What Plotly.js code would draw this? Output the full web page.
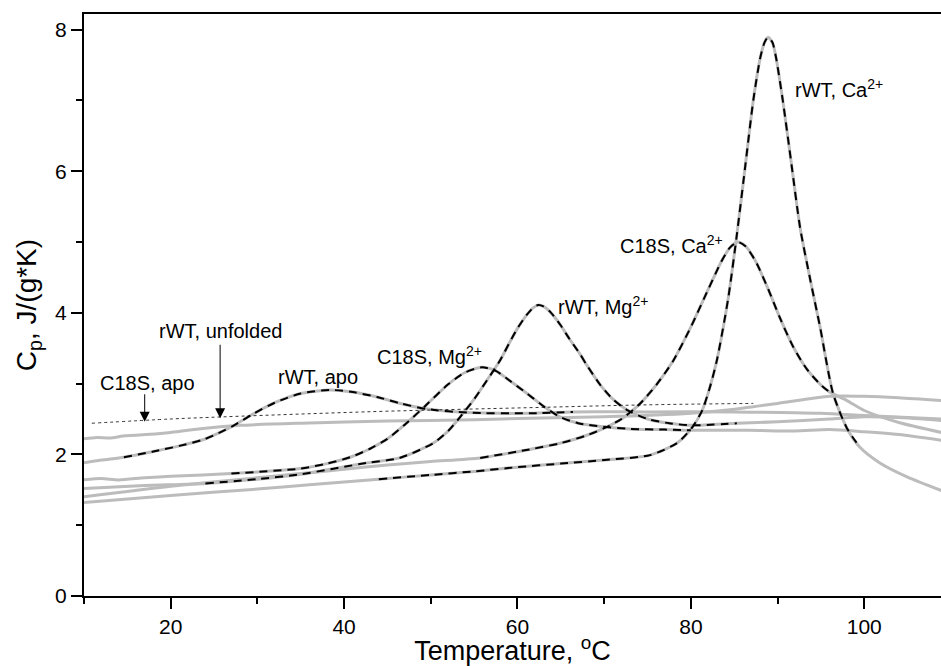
<!DOCTYPE html>
<html>
<head>
<meta charset="utf-8">
<script src="https://cdn.plot.ly/plotly-3.0.1.min.js"></script>
<style>html,body{margin:0;padding:0;background:#fff;}#chart{width:941px;height:666px;}</style>
</head>
<body>
<div id="chart"></div>
<script>
// ---- Data ----
// C18S, apo (no transition)
var c18sApoT  = [10, 11.5, 13, 14.5, 16, 20, 24, 28, 35, 45, 55, 61.4, 70, 80, 84.5, 90, 96, 100, 104, 108.9];
var c18sApoCp = [2.22, 2.24, 2.23, 2.26, 2.27, 2.31, 2.37, 2.41, 2.44, 2.47, 2.49, 2.51, 2.53, 2.58, 2.63, 2.72, 2.82, 2.82, 2.8, 2.76];

// rWT, apo
var rwtApoT  = [10, 12, 14.6, 18, 21, 23.8, 25.5, 27.3, 29.5, 32, 35, 38.4, 41, 43.8, 46.5, 49.6, 54.2, 61.4, 66.4, 75, 85, 95, 100, 108.9];
var rwtApoCp = [1.88, 1.92, 1.96, 2.04, 2.12, 2.21, 2.3, 2.41, 2.57, 2.73, 2.86, 2.91, 2.88, 2.81, 2.72, 2.64, 2.59, 2.58, 2.6, 2.6, 2.6, 2.58, 2.55, 2.5];

// C18S, Mg2+
var c18sMgT  = [10, 12, 14, 17, 20, 27, 35, 38, 40.7, 43, 45, 47, 49.5, 52, 54, 55.9, 57.5, 59, 61.1, 63, 64.9, 67, 69.9, 73, 77, 80, 86.8, 92, 96, 100, 104, 108.9];
var c18sMgCp = [1.64, 1.66, 1.64, 1.67, 1.69, 1.73, 1.8, 1.87, 1.96, 2.08, 2.22, 2.42, 2.7, 2.99, 3.16, 3.23, 3.18, 3.05, 2.86, 2.68, 2.53, 2.44, 2.39, 2.36, 2.35, 2.34, 2.34, 2.33, 2.35, 2.32, 2.28, 2.2];

// rWT, Mg2+
var rwtMgT  = [10, 17, 24, 30, 35, 42.6, 46.4, 50.3, 52, 53.4, 55, 56.5, 58, 59, 60, 61, 61.8, 62.4, 63, 63.8, 65, 66, 67.2, 68, 69.5, 71, 72.6, 75, 77.5, 80.2, 85.3, 90, 96, 100, 104, 108.9];
var rwtMgCp = [1.52, 1.56, 1.59, 1.65, 1.72, 1.88, 1.95, 2.16, 2.33, 2.53, 2.78, 3.05, 3.33, 3.56, 3.78, 3.96, 4.07, 4.11, 4.09, 4.01, 3.82, 3.63, 3.42, 3.26, 2.99, 2.78, 2.63, 2.5, 2.44, 2.41, 2.44, 2.46, 2.5, 2.53, 2.52, 2.48];

// C18S, Ca2+
var c18sCaT  = [10, 20, 30, 35, 40, 45, 50, 55.7, 61.4, 65, 68, 70, 72, 74, 76, 78, 80, 82, 83.5, 84.5, 85.4, 86.3, 87.5, 89, 90.3, 91.8, 93.4, 95, 96, 98, 100, 104, 108.9];
var c18sCaCp = [1.4, 1.55, 1.67, 1.73, 1.79, 1.85, 1.9, 1.95, 2.07, 2.16, 2.27, 2.37, 2.5, 2.7, 2.98, 3.33, 3.8, 4.33, 4.72, 4.92, 5.0, 4.94, 4.72, 4.31, 3.92, 3.52, 3.2, 2.98, 2.88, 2.76, 2.62, 2.45, 2.31];

// rWT, Ca2+
var rwtCaT  = [10, 20, 30, 36, 44, 50, 55, 60, 65, 70, 75.3, 78.4, 80.2, 81.3, 82.2, 83, 84.3, 85.3, 86.3, 87.2, 88, 88.5, 88.9, 89.4, 89.8, 90.6, 91.6, 92.6, 93.8, 94.9, 96.4, 98, 99.5, 101.8, 105, 108.9];
var rwtCaCp = [1.32, 1.42, 1.51, 1.57, 1.65, 1.71, 1.76, 1.82, 1.87, 1.92, 1.99, 2.16, 2.39, 2.62, 2.95, 3.33, 4.2, 5.1, 6.1, 7.0, 7.6, 7.82, 7.89, 7.82, 7.62, 7.0, 6.1, 5.2, 4.45, 3.8, 2.86, 2.37, 2.1, 1.88, 1.68, 1.49];

// rWT, unfolded (calculated, dotted)
var unfoldT  = [10.9, 20, 26, 35, 45, 61.4, 75, 87.2];
var unfoldCp = [2.44, 2.5, 2.53, 2.57, 2.61, 2.66, 2.7, 2.72];

// Fit ranges (dashed black fits drawn over the experimental curves), [start, end] in degC
var fitRanges = {
  rwtApo: [14.6, 66.4],
  c18sMg: [27, 80],
  rwtMg: [24, 85.3],
  c18sCa: [55.7, 96],
  rwtCa: [44, 99.5]
};

// Labels
var labelText = ['rWT, apo', 'C18S, apo', 'rWT, unfolded', 'C18S, Mg<sup>2+</sup>', 'rWT, Mg<sup>2+</sup>', 'C18S, Ca<sup>2+</sup>', 'rWT, Ca<sup>2+</sup>'];
var labelT    = [37.0, 17.3, 25.7, 49.9, 69.9, 77.8, 97.1];
var labelCp   = [3.09, 3.01, 3.74, 3.40, 4.10, 4.97, 7.17];

// Arrows: head T, head Cp, tail Cp
var arrowT     = [17.0, 25.7];
var arrowHead  = [2.46, 2.51];
var arrowTail  = [2.87, 3.57];

// ---- Build traces ----
var grey = '#bcbcbc';
var curves = [
  {t: c18sApoT, c: c18sApoCp, fit: null},
  {t: rwtApoT, c: rwtApoCp, fit: fitRanges.rwtApo},
  {t: c18sMgT, c: c18sMgCp, fit: fitRanges.c18sMg},
  {t: rwtMgT, c: rwtMgCp, fit: fitRanges.rwtMg},
  {t: c18sCaT, c: c18sCaCp, fit: fitRanges.c18sCa},
  {t: rwtCaT, c: rwtCaCp, fit: fitRanges.rwtCa}
];
var traces = [];
curves.forEach(function (cv) {
  traces.push({x: cv.t, y: cv.c, mode: 'lines', type: 'scatter',
    line: {color: grey, width: 3, shape: 'spline', smoothing: 0.7}, hoverinfo: 'skip'});
});
traces.push({x: unfoldT, y: unfoldCp, mode: 'lines', type: 'scatter',
  line: {color: '#000', width: 0.8, dash: 'dot', shape: 'spline'}, hoverinfo: 'skip'});
curves.forEach(function (cv) {
  if (!cv.fit) return;
  var fx = [], fy = [];
  for (var i = 0; i < cv.t.length; i++) {
    if (cv.t[i] >= cv.fit[0] && cv.t[i] <= cv.fit[1]) { fx.push(cv.t[i]); fy.push(cv.c[i]); }
  }
  traces.push({x: fx, y: fy, mode: 'lines', type: 'scatter',
    line: {color: '#000', width: 2, dash: '8px,6px', shape: 'spline', smoothing: 0.7}, hoverinfo: 'skip'});
});

var fam = 'Liberation Sans, Arial, sans-serif';
var annFont = {family: fam, size: 20, color: '#000'};
var annotations = [];
for (var i = 0; i < labelText.length; i++) {
  annotations.push({x: labelT[i], y: labelCp[i], xref: 'x', yref: 'y', text: labelText[i],
    showarrow: false, font: annFont, xanchor: 'center', yanchor: 'middle'});
}
for (var j = 0; j < arrowT.length; j++) {
  annotations.push({x: arrowT[j], y: arrowHead[j], ax: arrowT[j], ay: arrowTail[j],
    xref: 'x', yref: 'y', axref: 'x', ayref: 'y', text: '', showarrow: true,
    arrowhead: 2, arrowsize: 2, arrowwidth: 1, arrowcolor: '#000'});
}

var axisFont = {family: fam, size: 21, color: '#000'};
var layout = {
  width: 941, height: 666,
  margin: {l: 84, r: 0, t: 14, b: 70, pad: 0},
  paper_bgcolor: '#fff', plot_bgcolor: '#fff',
  showlegend: false,
  xaxis: {
    range: [10, 108.85], tick0: 0, dtick: 20, showgrid: false, zeroline: false,
    showline: true, linecolor: '#000', linewidth: 2, mirror: true,
    ticks: 'outside', ticklen: 11, tickwidth: 2, tickcolor: '#000',
    minor: {ticks: 'outside', ticklen: 6, tickwidth: 2, tickcolor: '#000', dtick: 10, tick0: 0, showgrid: false},
    tickfont: axisFont,
    title: {text: 'Temperature, <sup>o</sup>C', font: {family: fam, size: 27, color: '#000'}, standoff: 2}
  },
  yaxis: {
    range: [0, 8.22], tick0: 0, dtick: 2, showgrid: false, zeroline: false,
    showline: true, linecolor: '#000', linewidth: 2, mirror: false,
    ticks: 'outside', ticklen: 11, tickwidth: 2, tickcolor: '#000',
    minor: {ticks: 'outside', ticklen: 6, tickwidth: 2, tickcolor: '#000', dtick: 1, tick0: 0, showgrid: false},
    tickfont: axisFont,
    title: {text: 'C<sub>p</sub>, J/(g*K)', font: {family: fam, size: 28, color: '#000'}, standoff: 10}
  },
  annotations: annotations
};

Plotly.newPlot('chart', traces, layout, {staticPlot: true, displayModeBar: false});
</script>
</body>
</html>
